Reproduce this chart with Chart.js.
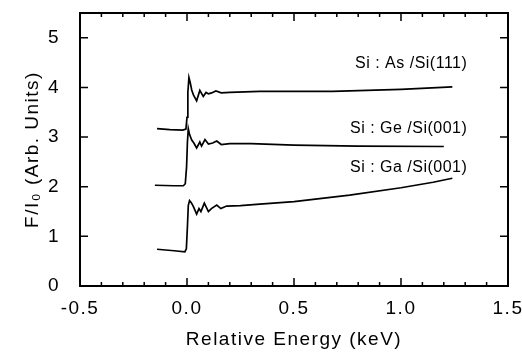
<!DOCTYPE html>
<html>
<head>
<meta charset="utf-8">
<script src="https://cdn.jsdelivr.net/npm/chart.js@4"></script>
<style>
  html, body { margin: 0; padding: 0; background: #fff; }
  #wrap { width: 522px; height: 354px; position: relative; }
</style>
</head>
<body>
<div id="wrap"><canvas id="myChart"></canvas></div>
<script>
/* Si : As /Si(111) */
var asEnergy = [-0.14, -0.08, -0.02, -0.005, 0.0, 0.004, 0.009, 0.015, 0.022, 0.03, 0.045, 0.06, 0.076, 0.089, 0.1, 0.115, 0.135, 0.16, 0.2, 0.34, 0.68, 1.0, 1.24];
var asSignal = [3.17, 3.15, 3.14, 3.16, 3.4, 3.9, 4.2, 4.1, 3.95, 3.85, 3.73, 3.94, 3.82, 3.9, 3.87, 3.89, 3.93, 3.89, 3.9, 3.92, 3.92, 3.96, 4.01];

/* Si : Ge /Si(001) */
var geEnergy = [-0.15, -0.06, -0.017, -0.008, -0.002, 0.002, 0.006, 0.012, 0.022, 0.032, 0.045, 0.06, 0.068, 0.084, 0.1, 0.12, 0.139, 0.16, 0.2, 0.3, 0.5, 0.8, 1.2];
var geSignal = [2.03, 2.02, 2.02, 2.06, 2.4, 2.9, 3.17, 3.05, 2.94, 2.88, 2.78, 2.9, 2.82, 2.95, 2.86, 2.88, 2.92, 2.85, 2.87, 2.87, 2.84, 2.82, 2.81];

/* Si : Ga /Si(001) */
var gaEnergy = [-0.14, -0.06, -0.01, -0.003, 0.002, 0.006, 0.012, 0.02, 0.03, 0.045, 0.056, 0.065, 0.081, 0.1, 0.114, 0.139, 0.158, 0.185, 0.25, 0.34, 0.5, 0.76, 1.0, 1.15, 1.24];
var gaSignal = [0.74, 0.71, 0.69, 0.75, 1.2, 1.62, 1.72, 1.68, 1.6, 1.45, 1.56, 1.5, 1.67, 1.5, 1.56, 1.63, 1.56, 1.61, 1.62, 1.65, 1.70, 1.83, 1.98, 2.09, 2.17];

var seriesNames = ['Si : As /Si(111)', 'Si : Ge /Si(001)', 'Si : Ga /Si(001)'];
var xTicks = [-0.5, 0.0, 0.5, 1.0, 1.5];
var yTicks = [0, 1, 2, 3, 4, 5];

// where the curve names sit, in data units (right edge, middle)
var nameAnchorX = 1.31;
var nameAnchorY = [4.49, 3.18, 2.39];

function pts(xs, ys) {
  return xs.map(function (x, i) { return {x: x, y: ys[i]}; });
}

var FONT = '"Liberation Sans", Arial, Helvetica, sans-serif';
Chart.defaults.color = '#000';
Chart.defaults.font.family = FONT;

var spacing = {
  id: 'spacing',
  beforeUpdate: function (chart) { chart.ctx.letterSpacing = '1.5px'; },
  beforeDraw: function (chart) { chart.ctx.letterSpacing = '1.5px'; }
};

// box round the plot plus inward ticks on all four sides
var frame = {
  id: 'frame',
  afterDraw: function (chart) {
    var ctx = chart.ctx, a = chart.chartArea;
    var xs = chart.scales.x, ys = chart.scales.y;
    ctx.save();
    ctx.strokeStyle = '#000';
    ctx.lineWidth = 2;
    ctx.strokeRect(a.left, a.top, a.right - a.left, a.bottom - a.top);
    ctx.lineWidth = 1.5;
    ctx.beginPath();
    for (var i = -5; i <= 15; i++) {
      var px = xs.getPixelForValue(i / 10);
      var len = (i % 5 === 0) ? 8 : 4;
      ctx.moveTo(px, a.bottom); ctx.lineTo(px, a.bottom - len);
      ctx.moveTo(px, a.top); ctx.lineTo(px, a.top + len);
    }
    yTicks.forEach(function (v) {
      var py = ys.getPixelForValue(v);
      ctx.moveTo(a.left, py); ctx.lineTo(a.left + 8, py);
      ctx.moveTo(a.right, py); ctx.lineTo(a.right - 8, py);
    });
    ctx.stroke();
    ctx.restore();
  }
};

var names = {
  id: 'names',
  afterDatasetsDraw: function (chart) {
    var ctx = chart.ctx;
    ctx.save();
    ctx.letterSpacing = '0.5px';
    ctx.font = '16px ' + FONT;
    ctx.fillStyle = '#000';
    ctx.textAlign = 'right';
    ctx.textBaseline = 'middle';
    seriesNames.forEach(function (n, i) {
      ctx.fillText(n, chart.scales.x.getPixelForValue(nameAnchorX), chart.scales.y.getPixelForValue(nameAnchorY[i]));
    });
    ctx.restore();
  }
};

function line(label, data) {
  return {
    label: label,
    data: data,
    borderColor: '#000',
    borderWidth: 1.7,
    pointRadius: 0,
    fill: false,
    tension: 0
  };
}

// fixed box sizes, no extra room for overhanging labels
function fixX(s) { s.height = 68; s.paddingLeft = 0; s.paddingRight = 0; s.paddingTop = 0; s.paddingBottom = 0; }
function fixY(s) { s.width = 80; s.paddingLeft = 0; s.paddingRight = 0; s.paddingTop = 0; s.paddingBottom = 0; }

var ctx1 = document.getElementById('myChart').getContext('2d');
window.myLine = new Chart(ctx1, {
  type: 'line',
  data: {
    datasets: [
      line(seriesNames[0], pts(asEnergy, asSignal)),
      line(seriesNames[1], pts(geEnergy, geSignal)),
      line(seriesNames[2], pts(gaEnergy, gaSignal))
    ]
  },
  plugins: [spacing, frame, names],
  options: {
    animation: false,
    responsive: true,
    maintainAspectRatio: false,
    layout: { padding: { top: 13, right: 14, left: 0, bottom: 0 } },
    plugins: {
      legend: { display: false },
      tooltip: { enabled: false }
    },
    scales: {
      x: {
        type: 'linear',
        min: -0.5,
        max: 1.5,
        afterBuildTicks: function (s) { s.ticks = xTicks.map(function (v) { return {value: v}; }); },
        afterFit: fixX,
        grid: { display: false },
        border: { display: false },
        ticks: {
          padding: 3,
          maxRotation: 0,
          font: { size: 19 },
          callback: function (v) { return v.toFixed(1); }
        },
        title: {
          display: true,
          text: 'Relative Energy (keV)',
          font: { size: 19 },
          padding: { top: 0, bottom: 3 }
        }
      },
      y: {
        min: 0,
        max: 5.5,
        afterBuildTicks: function (s) { s.ticks = yTicks.map(function (v) { return {value: v}; }); },
        afterFit: fixY,
        grid: { display: false },
        border: { display: false },
        ticks: {
          padding: 12,
          font: { size: 19 }
        },
        title: {
          display: true,
          text: 'F/I\u2080 (Arb. Units)',
          font: { size: 19 },
          padding: { top: 21, bottom: 0 }
        }
      }
    }
  }
});
</script>
</body>
</html>
